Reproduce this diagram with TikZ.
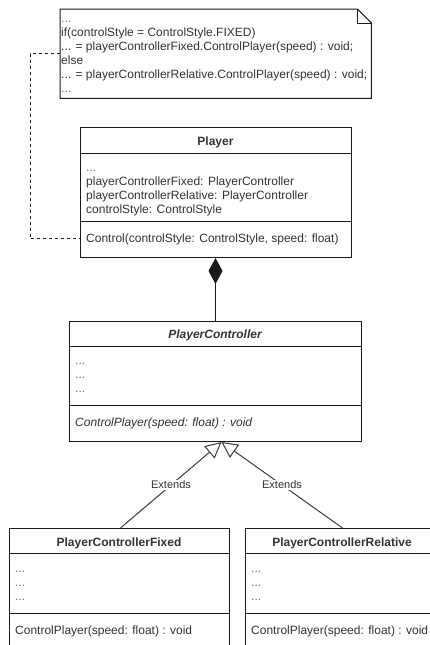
\documentclass[tikz,border=0pt]{standalone}
\usepackage{fontspec}
\setmainfont{Liberation Sans}
\usetikzlibrary{arrows.meta}
\definecolor{txt}{HTML}{333333}
\definecolor{edge}{HTML}{1A1A1A}
\begin{document}
\begin{tikzpicture}[x=1pt,y=-1pt,
  box/.style={draw=edge,line width=1pt,rectangle,inner sep=0pt,anchor=north west,fill=white},
  lbl/.style={inner sep=0pt,anchor=base west,text=txt,font=\fontsize{12pt}{14pt}\selectfont},
  ttl/.style={inner sep=0pt,anchor=base,text=txt,font=\fontsize{12pt}{14pt}\selectfont\bfseries},
  ittl/.style={inner sep=0pt,anchor=base,text=txt,font=\fontsize{12pt}{14pt}\selectfont\bfseries\itshape},
  dots/.style={lbl,text=txt!70},
  sep/.style={draw=edge,line width=1pt},
  ext/.style={draw=edge!85,line width=1pt,-{Triangle[open,length=16pt,width=16pt]}},
  extlbl/.style={fill=white,inner sep=1pt,text=txt,font=\fontsize{11pt}{13pt}\selectfont}]
\path[use as bounding box,clip] (0,0) rectangle (430,645);
\fill[white] (0,0) rectangle (430,645);

% note
\node[inner sep=0pt,anchor=north west,minimum width=311pt,minimum height=89pt] (note) at (60,9) {};
\draw[edge,line width=1pt,fill=white] (note.north west) -- ([xshift=-14pt]note.north east) -- ([yshift=-14pt]note.north east) -- (note.south east) -- (note.south west) -- cycle;
\draw[edge,line width=1pt] ([xshift=-14pt]note.north east) -- ([xshift=-14pt,yshift=-14pt]note.north east) -- ([yshift=-14pt]note.north east);
\node[dots] (n1) at (61,22) {...};
\node[lbl] (n2) at (61,36) {if(controlStyle = ControlStyle.FIXED)};
\node[lbl] (n3) at (61,50) {... = playerControllerFixed.ControlPlayer(speed) : void;};
\node[lbl] (n4) at (61,64) {else};
\node[lbl] (n5) at (61,78) {... = playerControllerRelative.ControlPlayer(speed) : void;};
\node[dots] (n6) at (61,92) {...};

% Player
\node[box,minimum width=271pt,minimum height=130pt] (player) at (80,127) {};
\draw[sep] ([yshift=-26pt]player.north west) -- ([yshift=-26pt]player.north east);
\draw[sep] ([yshift=-94pt]player.north west) -- ([yshift=-94pt]player.north east);
\node[ttl] (pt) at (215.5,145) {Player};
\node[dots] (pa0) at (86,171) {...};
\node[lbl] (pa1) at (86,185) {playerControllerFixed: PlayerController};
\node[lbl] (pa2) at (86,199) {playerControllerRelative: PlayerController};
\node[lbl] (pa3) at (86,213) {controlStyle: ControlStyle};
\node[lbl] (pm) at (86,242) {Control(controlStyle: ControlStyle, speed: float)};

% PlayerController
\node[box,minimum width=292pt,minimum height=120pt] (pc) at (69,321) {};
\draw[sep] ([yshift=-25pt]pc.north west) -- ([yshift=-25pt]pc.north east);
\draw[sep] ([yshift=-84pt]pc.north west) -- ([yshift=-84pt]pc.north east);
\node[ittl] (pct) at (215,338) {PlayerController};
\node[dots] (pca1) at (75,364) {...};
\node[dots] (pca2) at (75,378) {...};
\node[dots] (pca3) at (75,392) {...};
\node[lbl,font=\fontsize{12pt}{14pt}\selectfont\itshape] (pcm) at (75,426) {ControlPlayer(speed: float) : void};

% PlayerControllerFixed
\node[box,minimum width=220pt,minimum height=140pt] (fx) at (9,528) {};
\draw[sep] ([yshift=-25pt]fx.north west) -- ([yshift=-25pt]fx.north east);
\draw[sep] ([yshift=-85pt]fx.north west) -- ([yshift=-85pt]fx.north east);
\node[ttl] (fxt) at (119,546) {PlayerControllerFixed};
\node[dots] (fxa1) at (15,572) {...};
\node[dots] (fxa2) at (15,586) {...};
\node[dots] (fxa3) at (15,600) {...};
\node[lbl] (fxm) at (15,634) {ControlPlayer(speed: float) : void};

% PlayerControllerRelative
\node[box,minimum width=194pt,minimum height=140pt] (rl) at (245,528) {};
\draw[sep] ([yshift=-25pt]rl.north west) -- ([yshift=-25pt]rl.north east);
\draw[sep] ([yshift=-85pt]rl.north west) -- ([yshift=-85pt]rl.north east);
\node[ttl] (rlt) at (342,546) {PlayerControllerRelative};
\node[dots] (rla1) at (251,572) {...};
\node[dots] (rla2) at (251,586) {...};
\node[dots] (rla3) at (251,600) {...};
\node[lbl] (rlm) at (251,634) {ControlPlayer(speed: float) : void};

% connectors
\draw[edge,line width=1pt,dash pattern=on 3pt off 3pt] (note.west) -| ([xshift=-50pt]player.west |- pm.west) -- (player.west |- pm.west);
\draw[edge,line width=1pt,-{Diamond[length=26pt,width=14pt]}] (pc.north) -- (pc.north |- player.south);
\draw[ext] ([xshift=1pt]fx.north) -- node[extlbl] {Extends} ([xshift=6pt]pc.south);
\draw[ext] (rl.north) -- node[extlbl] {Extends} ([xshift=6pt]pc.south);
\end{tikzpicture}
\end{document}
